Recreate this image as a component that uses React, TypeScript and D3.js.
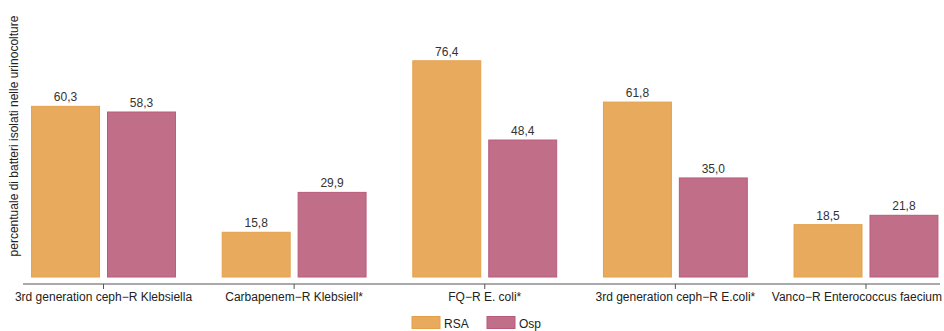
import React from "react";
import * as d3 from "d3";

const categories = [
  "3rd generation ceph\u2212R Klebsiella",
  "Carbapenem\u2212R Klebsiell*",
  "FQ\u2212R E. coli*",
  "3rd generation ceph\u2212R E.coli*",
  "Vanco\u2212R Enterococcus faecium",
];
const seriesNames = ["RSA", "Osp"];
const rsaValues = [60.3, 15.8, 76.4, 61.8, 18.5];
const ospValues = [58.3, 29.9, 48.4, 35.0, 21.8];
const colors = { RSA: { fill: "#E8AB5E", stroke: "#E5A04A" }, Osp: { fill: "#C16E89", stroke: "#B95A7C" } };

const W = 944;
const H = 331;
const FONT = "'Liberation Sans', Arial, sans-serif";

export default function App() {
  const x0 = d3
    .scaleBand<string>()
    .domain(categories)
    .range([8.2, 961.3])
    .paddingInner(0.24)
    .paddingOuter(0.12);
  const x1 = d3
    .scaleBand<string>()
    .domain(seriesNames)
    .range([0, x0.bandwidth()])
    .paddingInner(0.092);
  const y = d3.scaleLinear().domain([0, 80]).range([277, 50.6]);
  const fmt = (v: number) => v.toFixed(1).replace(".", ",");
  const data = categories.map((c, i) => ({ c, vals: [rsaValues[i], ospValues[i]] }));

  return (
    <svg
      width={W}
      height={H}
      style={{ position: "absolute", left: 0, top: 0, display: "block", background: "#fff" }}
      fontFamily={FONT}
    >
      <text
        transform={`translate(18,136) rotate(-90)`}
        textAnchor="middle"
        fontSize={12}
        fill="#222"
      >
        percentuale di batteri isolati nelle urinocolture
      </text>
      {data.map((d) => (
        <g key={d.c} transform={`translate(${x0(d.c)},0)`}>
          {d.vals.map((v, j) => {
            const s = seriesNames[j] as "RSA" | "Osp";
            const bx = x1(s)!;
            return (
              <g key={s}>
                <rect
                  x={bx + 0.5}
                  y={y(v)}
                  width={x1.bandwidth() - 1}
                  height={y(0) - y(v)}
                  fill={colors[s].fill}
                  stroke={colors[s].stroke}
                  strokeWidth={1}
                />
                <text
                  x={bx + x1.bandwidth() / 2}
                  y={y(v) - 5}
                  textAnchor="middle"
                  fontSize={12}
                  fill="#333"
                >
                  {fmt(v)}
                </text>
              </g>
            );
          })}
        </g>
      ))}
      <line x1={23} x2={940} y1={284} y2={284} stroke="#555" strokeWidth={1} />
      {categories.map((c, i) => {
        const cx = x0(c)! + x0.bandwidth() / 2;
        const last = i === categories.length - 1;
        return (
          <g key={c}>
            <line x1={cx} x2={cx} y1={284} y2={289} stroke="#555" strokeWidth={1} />
            <text
              x={last ? W - 2 : cx}
              y={301}
              textAnchor={last ? "end" : "middle"}
              fontSize={12}
              fill="#222"
            >
              {c}
            </text>
          </g>
        );
      })}
      {seriesNames.map((s, i) => {
        const lx = 412 + i * 75;
        const col = colors[s as "RSA" | "Osp"];
        return (
          <g key={s}>
            <rect x={lx} y={316.5} width={28} height={12} fill={col.fill} stroke={col.stroke} />
            <text x={lx + 32} y={327.5} fontSize={12} fill="#222">
              {s}
            </text>
          </g>
        );
      })}
    </svg>
  );
}
